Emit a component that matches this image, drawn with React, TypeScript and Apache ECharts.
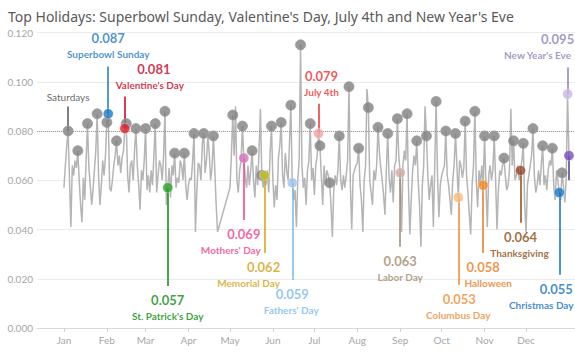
import React, { useEffect, useRef } from "react";
import * as echarts from "echarts";

const chartTitle =
  "Top Holidays: Superbowl Sunday, Valentine's Day, July 4th and New Year's Eve";

const monthLabels = ["Jan", "Feb", "Mar", "Apr", "May", "Jun", "Jul", "Aug", "Sep", "Oct", "Nov", "Dec"];
const monthStartDays = [0, 31, 59, 90, 120, 151, 181, 212, 243, 273, 304, 334];

const referenceLevel = 0.08;
const firstSaturday = 3;

// daily share, 2014 (day 0 = Jan 1); day 365 = Jan 1 of the next year
const dailyValues: (number | null)[] = [
  0.057, 0.066, 0.074, 0.080, 0.060, 0.041, 0.066, 0.062, 0.068, 0.065,
  0.072, 0.060, 0.050, 0.043, 0.061, 0.052, 0.068, 0.083, 0.065, 0.058,
  0.050, 0.056, 0.064, 0.072, 0.087, 0.062, 0.050, 0.058, 0.068, 0.062,
  0.070, 0.0835, 0.087, 0.057, 0.0555, 0.060, 0.066, 0.070, 0.076, 0.066,
  0.070, 0.063, 0.069, 0.072, 0.081, 0.083, 0.062, 0.055, 0.066, 0.068,
  0.060, 0.072, 0.081, 0.066, 0.058, 0.048, 0.064, 0.060, 0.068, 0.081,
  0.056, 0.062, 0.055, 0.064, 0.058, 0.070, 0.083, 0.055, 0.062, 0.068,
  0.066, 0.060, 0.070, 0.088, 0.050, 0.057, 0.065, 0.053, 0.066, 0.062,
  0.071, 0.057, 0.061, 0.059, 0.068, 0.066, 0.060, 0.071, 0.058, 0.052,
  0.058, 0.061, 0.060, 0.068, 0.079, 0.039, 0.055, 0.067, 0.066, 0.060,
  0.075, 0.079, 0.063, 0.068, 0.078, 0.071, 0.060, 0.065, 0.078, 0.065,
  0.050, 0.039, null, null, null, null, null, null, null, null,
  0.057, 0.070, 0.0865, 0.070, 0.090, 0.060, 0.055, 0.064, 0.068, 0.082,
  0.069, 0.061, 0.057, 0.066, 0.058, 0.064, 0.072, 0.060, 0.053, 0.066,
  0.058, 0.072, 0.089, 0.062, 0.057, 0.062, 0.058, 0.064, 0.055, 0.071,
  0.082, 0.060, 0.049, 0.058, 0.052, 0.069, 0.074, 0.0835, 0.062, 0.057,
  0.071, 0.064, 0.060, 0.075, 0.0905, 0.059, 0.052, 0.056, 0.041, 0.060,
  0.068, 0.115, 0.066, 0.057, 0.061, 0.050, 0.064, 0.068, 0.083, 0.060,
  0.065, 0.054, 0.066, 0.070, 0.079, 0.074, 0.062, 0.050, 0.066, 0.058,
  0.064, 0.062, 0.059, 0.050, 0.037, 0.056, 0.062, 0.058, 0.064, 0.078,
  0.060, 0.056, 0.062, 0.057, 0.062, 0.068, 0.098, 0.058, 0.040, 0.062,
  0.064, 0.066, 0.067, 0.073, 0.058, 0.052, 0.039, 0.060, 0.066, 0.097,
  0.0895, 0.060, 0.055, 0.050, 0.064, 0.060, 0.066, 0.0815, 0.071, 0.065,
  0.060, 0.054, 0.046, 0.064, 0.079, 0.061, 0.055, 0.064, 0.051, 0.066,
  0.068, 0.085, 0.070, 0.063, 0.039, 0.066, 0.072, 0.068, 0.087, 0.058,
  0.038, 0.052, 0.064, 0.070, 0.066, 0.076, 0.060, 0.050, 0.033, 0.058,
  0.066, 0.090, 0.078, 0.062, 0.052, 0.058, 0.062, 0.041, 0.066, 0.092,
  0.062, 0.045, 0.058, 0.062, 0.064, 0.066, 0.080, 0.062, 0.058, 0.052,
  0.046, 0.060, 0.066, 0.079, 0.066, 0.053, 0.068, 0.066, 0.061, 0.065,
  0.084, 0.062, 0.055, 0.046, 0.038, 0.058, 0.066, 0.088, 0.060, 0.049,
  0.064, 0.058, 0.066, 0.058, 0.078, 0.058, 0.041, 0.062, 0.066, 0.060,
  0.064, 0.078, 0.060, 0.040, 0.056, 0.064, 0.062, 0.066, 0.069, 0.062,
  0.056, 0.058, 0.064, 0.089, 0.066, 0.076, 0.060, 0.062, 0.066, 0.060,
  0.064, 0.068, 0.075, 0.050, 0.039, 0.058, 0.062, 0.066, 0.070, 0.081,
  0.062, 0.055, 0.058, 0.064, 0.058, 0.066, 0.074, 0.058, 0.062, 0.056,
  0.064, 0.068, 0.066, 0.073, 0.058, 0.052, 0.064, 0.060, 0.055, 0.052,
  0.063, 0.058, 0.051, 0.060, 0.095, 0.070,
];

const holidayNames = [
  "Superbowl Sunday", "Valentine's Day", "St. Patrick's Day", "Mothers' Day",
  "Memorial Day", "Fathers' Day", "July 4th", "Labor Day", "Columbus Day",
  "Halloween", "Thanksgiving", "Christmas Day", "New Year's Eve", "New Year's Day",
];
const holidayDays = [32, 44, 75, 130, 145, 165, 184, 243, 285, 303, 330, 358, 364, 365];

// styling per holiday (marker colour, text/leader colour)
const markerColors = [
  "#1f77c4", "#e0202a", "#2aa52a", "#d470bb", "#c9c224", "#9cc3e8", "#f4a3a3",
  "#d7aaa2", "#f9b97a", "#f58a1f", "#9b4a2c", "#1878c8", "#c9b8e2", "#7b4cc0",
];
const textColors = [
  "#1f78c0", "#c8001e", "#0a8a0a", "#f0408c", "#d4a010", "#7ab8ec", "#e83030",
  "#a08868", "#f08a30", "#e87a20", "#8b4a10", "#1070c0", "#8c80b8", "#4b3f80",
];
// annotation layout: leader tip (in axis units), label direction and x nudges (px)
const leaderTips = [0.1062, 0.094, 0.0171, 0.0439, 0.0305, 0.0195, 0.0911, 0.033, 0.0175, 0.0305, 0.0427, 0.0216, 0.1058, 0.06];
const labelUp = [true, true, false, false, false, false, true, false, false, false, false, false, true, false];
const valueDx = [0, 29, 0, 0, -1, 0, 3, 0, 1, 0, 0, -3, -10, 0];
const nameDx = [0, 25, 0, -13, -16, -1, 3, 0, 0, 5, -1, -18, -30, 0];
const showLabel = [true, true, true, true, true, true, true, true, true, true, true, true, true, false];

const saturdayLabel = "Saturdays";
const saturdayTip = 0.0899;

const FONT = "Lato, 'Noto Sans', sans-serif";

export default function App() {
  const ref = useRef<HTMLDivElement>(null);

  useEffect(() => {
    if (!ref.current) return;
    const chart = echarts.init(ref.current, undefined, { renderer: "svg" });

    const lineData = dailyValues.map((v, i) => [i, v]);
    const saturdayData: number[][] = [];
    dailyValues.forEach((v, i) => {
      if (i >= firstSaturday && (i - firstSaturday) % 7 === 0 && v != null && i <= 364) {
        saturdayData.push([i, v]);
      }
    });

    const holidayMarkers = holidayDays.map((d, k) => ({
      value: [d, dailyValues[d] as number],
      itemStyle: { color: markerColors[k] },
    }));

    const leaders: any[] = holidayDays.map((d, k) => ({
      coords: [
        [d, dailyValues[d] as number],
        [d, leaderTips[k]],
      ],
      lineStyle: { color: textColors[k] },
    }));
    leaders.push({
      coords: [
        [firstSaturday, dailyValues[firstSaturday] as number],
        [firstSaturday, saturdayTip],
      ],
      lineStyle: { color: "#555555" },
    });

    const texts: any[] = [];
    holidayDays.forEach((d, k) => {
      if (!showLabel[k]) return;
      const v = dailyValues[d] as number;
      const up = labelUp[k];
      texts.push({
        value: [d, leaderTips[k]],
        label: {
          formatter: v.toFixed(3),
          offset: [valueDx[k], up ? -28 : 14],
          color: textColors[k],
          fontSize: 13,
          fontWeight: "bold",
        },
      });
      texts.push({
        value: [d, leaderTips[k]],
        label: {
          formatter: holidayNames[k],
          offset: [nameDx[k], up ? -12 : 30],
          color: textColors[k],
          fontSize: 10,
          fontWeight: "bold",
        },
      });
    });
    texts.push({
      value: [firstSaturday, saturdayTip],
      label: {
        formatter: saturdayLabel,
        offset: [0, -10],
        color: "#404040",
        fontSize: 10,
        fontWeight: "normal",
      },
    });

    chart.setOption({
      animation: false,
      backgroundColor: "#ffffff",
      title: {
        text: chartTitle,
        left: 3,
        top: 4,
        textStyle: { fontSize: 14, fontWeight: "normal", color: "#595959", fontFamily: "'Noto Sans', sans-serif" },
      },
      grid: { left: 37, right: 2, top: 32.5, bottom: 27, containLabel: false },
      xAxis: {
        type: "value",
        min: -19.5,
        max: 386,
        splitLine: { show: false },
        axisLine: { show: true, lineStyle: { color: "#dadada" } },
        axisTick: { show: true, customValues: monthStartDays, length: 4, lineStyle: { color: "#d0d0d0" } },
        axisLabel: {
          customValues: monthStartDays,
          formatter: (v: number) => monthLabels[monthStartDays.indexOf(Math.round(v))] || "",
          color: "#a6a6a6",
          fontSize: 10,
          margin: 7,
          fontFamily: FONT,
        },
      },
      yAxis: {
        type: "value",
        min: 0,
        max: 0.12,
        interval: 0.02,
        axisLine: { show: false },
        axisTick: { show: false },
        splitLine: { lineStyle: { color: "#ebebeb", width: 1 } },
        axisLabel: {
          formatter: (v: number) => v.toFixed(3),
          color: "#a6a6a6",
          fontSize: 10,
          margin: 4,
          fontFamily: FONT,
        },
      },
      series: [
        {
          type: "line",
          data: lineData,
          showSymbol: false,
          symbol: "none",
          connectNulls: true,
          lineStyle: { color: "#b5b5b5", width: 1.5 },
          z: 2,
          markLine: {
            silent: true,
            symbol: "none",
            label: { show: false },
            lineStyle: { type: "dotted", color: "#9a9a9a", width: 1 },
            data: [{ yAxis: referenceLevel }],
          },
        },
        {
          type: "lines",
          coordinateSystem: "cartesian2d",
          data: leaders,
          lineStyle: { width: 1.5, opacity: 1 },
          z: 3,
        },
        {
          type: "scatter",
          data: saturdayData,
          symbolSize: 10,
          itemStyle: { color: "#7f7f7f", borderColor: "#9a9a9a", borderWidth: 1 },
          z: 4,
        },
        {
          type: "scatter",
          data: holidayMarkers,
          symbolSize: 10,
          itemStyle: { borderColor: "rgba(255,255,255,0.4)", borderWidth: 1 },
          z: 5,
        },
        {
          type: "scatter",
          data: texts,
          symbolSize: 0,
          silent: true,
          label: { show: true, position: "inside", fontFamily: FONT },
          z: 6,
        },
      ],
    });

    return () => chart.dispose();
  }, []);

  return (
    <div style={{ position: "absolute", left: 0, top: 0, width: 575, height: 355, overflow: "hidden", background: "#fff" }}>
      <div ref={ref} style={{ width: 600, height: 355 }} />
    </div>
  );
}
